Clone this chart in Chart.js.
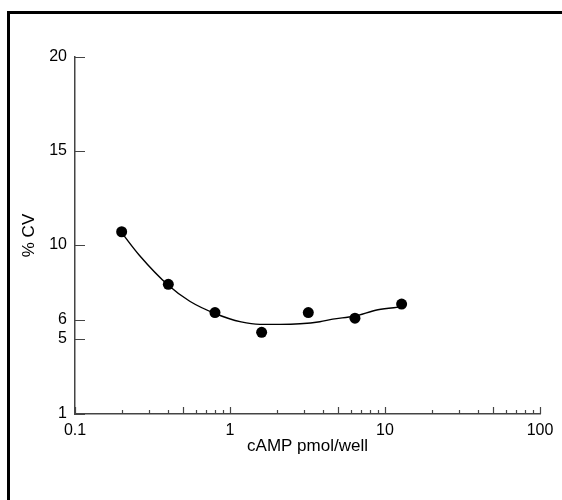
<!DOCTYPE html>
<html>
<head>
<meta charset="utf-8">
<script src="https://cdn.jsdelivr.net/npm/chart.js@4.4.1/dist/chart.umd.min.js"></script>
<style>
    body { margin: 0; background: #fff; }
    #wrap { position: relative; width: 562px; height: 500px; overflow: hidden; }
    #frame {
        position: absolute; left: 7px; top: 11px; width: 600px; height: 600px;
        border-left: 3px solid #000; border-top: 3px solid #000;
    }
    canvas { position: absolute; left: 0; top: 0; }
</style>
</head>
<body>
<div id="wrap">
    <div id="frame"></div>
    <canvas id="cv-chart" width="562" height="500"></canvas>
</div>
<script>
// Data
const concentrations = [0.2, 0.4, 0.8, 1.6, 3.2, 6.4, 12.8];
const cvValues = [10.7, 7.9, 6.4, 5.35, 6.4, 6.1, 6.85];

// fitted curve, sampled along its drawn path
const fitX = [0.2, 0.26, 0.4, 0.55, 0.8, 1.18, 1.56, 2.1, 2.83, 3.8, 4.6, 6.3, 9.0, 12.8];
const fitY = [10.65, 9.45, 7.85, 7.0, 6.35, 5.9, 5.77, 5.77, 5.8, 5.91, 6.05, 6.2, 6.55, 6.7];

// Axis ticks
const yTicks = [1, 5, 6, 10, 15, 20];
const xLabels = [0.1, 1, 10, 100];

const FONT = "'Liberation Sans', Arial, Helvetica, sans-serif";
const AXIS_COLOR = '#444';

// minor tick marks for the log axis
const xTickMarks = [];
for (let d = 0.1; d < 100; d *= 10) {
    for (let m = 1; m < 10; m++) xTickMarks.push(+(d * m).toPrecision(3));
}
xTickMarks.push(100);

// Ticks drawn inward from the axes
const inwardTicks = {
    id: 'inwardTicks',
    afterDraw(chart) {
        const { ctx, chartArea, scales } = chart;
        ctx.save();
        ctx.strokeStyle = AXIS_COLOR;
        ctx.lineWidth = 1.2;
        ctx.beginPath();
        yTicks.forEach(v => {
            const py = Math.round(scales.y.getPixelForValue(v)) + 0.5;
            ctx.moveTo(chartArea.left, py);
            ctx.lineTo(chartArea.left + 10, py);
        });
        xTickMarks.forEach(v => {
            const px = Math.round(scales.x.getPixelForValue(v)) + 0.5;
            const lead = String(v).replace('0.', '')[0];
            const len = (lead === '1' || lead === '5') ? 7 : 4;
            ctx.moveTo(px, chartArea.bottom);
            ctx.lineTo(px, chartArea.bottom - len);
        });
        ctx.stroke();
        ctx.restore();
    }
};

new Chart(document.getElementById('cv-chart'), {
    type: 'scatter',
    data: {
        datasets: [
            {
                label: 'fit',
                data: fitX.map((x, i) => ({ x, y: fitY[i] })),
                showLine: true,
                borderColor: '#000',
                borderWidth: 1.4,
                pointRadius: 0,
                cubicInterpolationMode: 'monotone',
            },
            {
                label: '% CV',
                data: concentrations.map((x, i) => ({ x, y: cvValues[i] })),
                pointRadius: 5.5,
                pointBackgroundColor: '#000',
                pointBorderColor: '#000',
                pointBorderWidth: 0,
            }
        ]
    },
    options: {
        responsive: false,
        animation: false,
        layout: { padding: { left: 10, right: 22, top: 57, bottom: 36 } },
        plugins: {
            legend: { display: false },
            tooltip: { enabled: false }
        },
        scales: {
            x: {
                type: 'logarithmic',
                min: 0.1,
                max: 100,
                afterBuildTicks: scale => { scale.ticks = xLabels.map(v => ({ value: v })); },
                afterFit: scale => { scale.height = 50; },
                grid: { display: false, drawTicks: false, tickLength: 0 },
                border: { display: true, color: AXIS_COLOR, width: 1.5 },
                ticks: {
                    color: '#000',
                    padding: 7,
                    maxRotation: 0,
                    autoSkip: false,
                    font: { family: FONT, size: 16 },
                    callback: v => String(v)
                },
                title: {
                    display: true,
                    text: 'cAMP pmol/well',
                    color: '#000',
                    font: { family: FONT, size: 17 },
                    padding: { top: 0, bottom: 7 }
                }
            },
            y: {
                type: 'linear',
                min: 1,
                max: 20,
                afterBuildTicks: scale => { scale.ticks = yTicks.map(v => ({ value: v })); },
                afterFit: scale => { scale.width = 65; },
                grid: { display: false, drawTicks: false, tickLength: 0 },
                border: { display: true, color: AXIS_COLOR, width: 1.5 },
                ticks: {
                    color: '#000',
                    padding: 8,
                    autoSkip: false,
                    font: { family: FONT, size: 16 },
                    callback: v => String(v)
                },
                title: {
                    display: true,
                    text: '% CV',
                    color: '#000',
                    font: { family: FONT, size: 17 },
                    padding: { top: 9, bottom: 0 }
                }
            }
        }
    },
    plugins: [inwardTicks]
});
</script>
</body>
</html>
